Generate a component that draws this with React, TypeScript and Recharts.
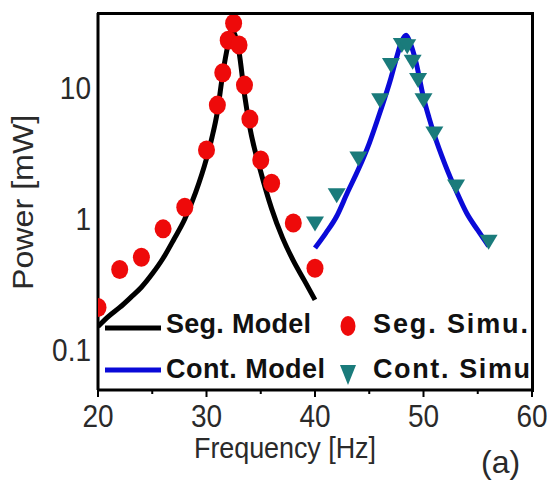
import {
  ComposedChart,
  Line,
  Scatter,
  XAxis,
  YAxis,
} from "recharts";

// Seg. Model (black curve)
const segModelF = [20, 21, 22, 23, 24, 25, 26, 27, 28, 29, 30, 30.5, 31, 31.5, 32, 32.3, 32.6, 33, 33.5, 34, 35, 36, 37, 38, 39, 40];
const segModelP = [0.15, 0.18, 0.21, 0.25, 0.3, 0.38, 0.5, 0.7, 1.0, 1.6, 2.9, 4.2, 6.6, 13, 22, 28, 26, 19, 9, 5, 2.3, 1.2, 0.72, 0.48, 0.34, 0.24];

// Seg. Simu. (red dots)
const segSimuF = [20, 22, 24, 26, 28, 30, 31, 31.5, 32, 32.5, 33, 33.5, 34, 35, 36, 38, 40];
const segSimuP = [0.21, 0.41, 0.51, 0.84, 1.23, 3.37, 7.45, 13.2, 23.4, 31.5, 21.5, 10.6, 5.82, 2.83, 1.88, 0.93, 0.42];

// Cont. Model (blue curve)
const contModelF = [40, 41, 42, 43, 44, 45, 46, 47, 47.5, 48, 48.4, 48.8, 49.3, 50, 50.5, 51, 52, 53, 54, 55, 56];
const contModelP = [0.6, 0.78, 1.05, 1.6, 2.4, 3.8, 6.6, 12, 17, 23, 25.5, 22, 16, 8.5, 6, 4.4, 2.6, 1.65, 1.1, 0.82, 0.62];

// Cont. Simu (teal triangles)
const contSimuF = [40, 42, 44, 46, 47, 48, 48.5, 49, 49.5, 50, 51, 53, 56];
const contSimuP = [0.925, 1.52, 2.91, 8.13, 15.1, 21.5, 21, 16, 11.6, 8.13, 4.52, 1.77, 0.67];

const xTicks = [20, 25, 30, 35, 40, 45, 50, 55, 60];
const yTicks = [0.1, 1, 10];
const xDomain = [20, 60];
const yDomain = [0.049, 37.8];

const zip = (f: number[], p: number[]) => f.map((v, i) => ({ f: v, p: p[i] }));

const FONT = "'Liberation Sans', Arial, sans-serif";
const STRETCH = 1.11;

const W = 547;
const H = 483;
const MARGIN = { top: 13, right: 15, left: 0, bottom: 0 };
const Y_AXIS_W = 98;
const X_AXIS_H = 93;

const XTick = (props: any) => {
  const { x, y, payload } = props;
  const v = payload.value;
  const major = v % 10 === 0;
  return (
    <g>
      <line x1={x} x2={x} y1={y} y2={y + (major ? 7 : 4)} stroke="#000" strokeWidth={2} />
      {major && (
        <text
          transform={`translate(${x},${y + 15}) scale(1,${STRETCH})`}
          textAnchor="middle"
          dy="0.71em"
          fontSize={28}
          fontFamily={FONT}
          fill="#2a2a2a"
        >
          {v}
        </text>
      )}
    </g>
  );
};

const YTick = (props: any) => {
  const { x, y, payload } = props;
  return (
    <text
      transform={`translate(${x},${y}) scale(1,${STRETCH})`}
      textAnchor="end"
      dy="0.355em"
      fontSize={28}
      fontFamily={FONT}
      fill="#2a2a2a"
    >
      {String(payload.value)}
    </text>
  );
};

const Dot = (props: any) => (
  <ellipse cx={props.cx} cy={props.cy} rx={8.5} ry={9.5} fill="#ee0a0a" />
);

const Tri = (props: any) => {
  const { cx, cy } = props;
  return (
    <polygon
      points={`${cx - 9},${cy - 7} ${cx + 9},${cy - 7} ${cx},${cy + 8}`}
      fill="#1a7b7b"
    />
  );
};

const App = () => {
  const left = MARGIN.left + Y_AXIS_W;
  const top = MARGIN.top;
  const right = W - MARGIN.right;
  const bottom = H - MARGIN.bottom - X_AXIS_H;

  return (
    <div style={{ position: "absolute", left: 0, top: 0, width: W, height: H, background: "#fff" }}>
      <ComposedChart width={W} height={H} margin={MARGIN}>
        <XAxis
          dataKey="f"
          type="number"
          domain={xDomain}
          ticks={xTicks}
          allowDataOverflow
          height={X_AXIS_H}
          tickSize={0}
          tickMargin={0}
          tickLine={false}
          tick={<XTick />}
          axisLine={{ stroke: "#000", strokeWidth: 3 }}
          interval={0}
        />
        <YAxis
          dataKey="p"
          type="number"
          scale="log"
          domain={yDomain}
          ticks={yTicks}
          allowDataOverflow
          width={Y_AXIS_W}
          tickSize={0}
          tickMargin={7}
          tickLine={false}
          tick={<YTick />}
          axisLine={{ stroke: "#000", strokeWidth: 3 }}
          interval={0}
        />
        <Line
          data={zip(segModelF, segModelP)}
          dataKey="p"
          type="monotone"
          stroke="#000"
          strokeWidth={5}
          dot={false}
          isAnimationActive={false}
        />
        <Scatter
          data={zip(segSimuF, segSimuP)}
          dataKey="p"
          shape={<Dot />}
          isAnimationActive={false}
        />
        <Scatter
          data={zip(contSimuF, contSimuP)}
          dataKey="p"
          shape={<Tri />}
          isAnimationActive={false}
        />
        <Line
          data={zip(contModelF, contModelP)}
          dataKey="p"
          type="monotone"
          stroke="#0a0ad8"
          strokeWidth={5}
          dot={false}
          isAnimationActive={false}
        />
      </ComposedChart>

      {/* plot frame: top and right edges */}
      <div
        style={{
          position: "absolute",
          left: left - 1.5,
          top: top - 1.5,
          width: right - left,
          height: bottom - top,
          borderTop: "3px solid #000",
          borderRight: "3px solid #000",
          pointerEvents: "none",
        }}
      />

      {/* legend and axis titles */}
      <svg
        width={W}
        height={H}
        style={{ position: "absolute", left: 0, top: 0, pointerEvents: "none" }}
        fontFamily={FONT}
      >
        <line x1={105} x2={161} y1={328} y2={328} stroke="#000" strokeWidth={5} />
        <text x={166} y={333} fontSize={27} fontWeight="bold" fill="#111" textLength={145} lengthAdjust="spacing">
          Seg. Model
        </text>
        <ellipse cx={348} cy={326} rx={7.5} ry={10} fill="#ee0a0a" />
        <text x={373} y={333} fontSize={27} fontWeight="bold" fill="#111" textLength={155} lengthAdjust="spacing">
          Seg. Simu.
        </text>
        <line x1={105} x2={161} y1={370} y2={370} stroke="#0a0ad8" strokeWidth={5} />
        <text x={166} y={378} fontSize={27} fontWeight="bold" fill="#111" textLength={159} lengthAdjust="spacing">
          Cont. Model
        </text>
        <polygon points="340,365 356,365 348,385" fill="#1a7b7b" />
        <text x={373} y={378} fontSize={27} fontWeight="bold" fill="#111" textLength={157} lengthAdjust="spacing">
          Cont. Simu
        </text>

        <text
          transform={`translate(194,458) scale(1,${STRETCH})`}
          fontSize={27}
          fill="#2a2a2a"
          textLength={182}
          lengthAdjust="spacing"
        >
          Frequency [Hz]
        </text>
        <text
          transform={`translate(33,290) rotate(-90) scale(${STRETCH},1)`}
          fontSize={29}
          fill="#2a2a2a"
        >
          Power [mW]
        </text>
        <text x={481} y={473} fontSize={32} fill="#2a2a2a">
          (a)
        </text>
      </svg>
    </div>
  );
};

export default App;
